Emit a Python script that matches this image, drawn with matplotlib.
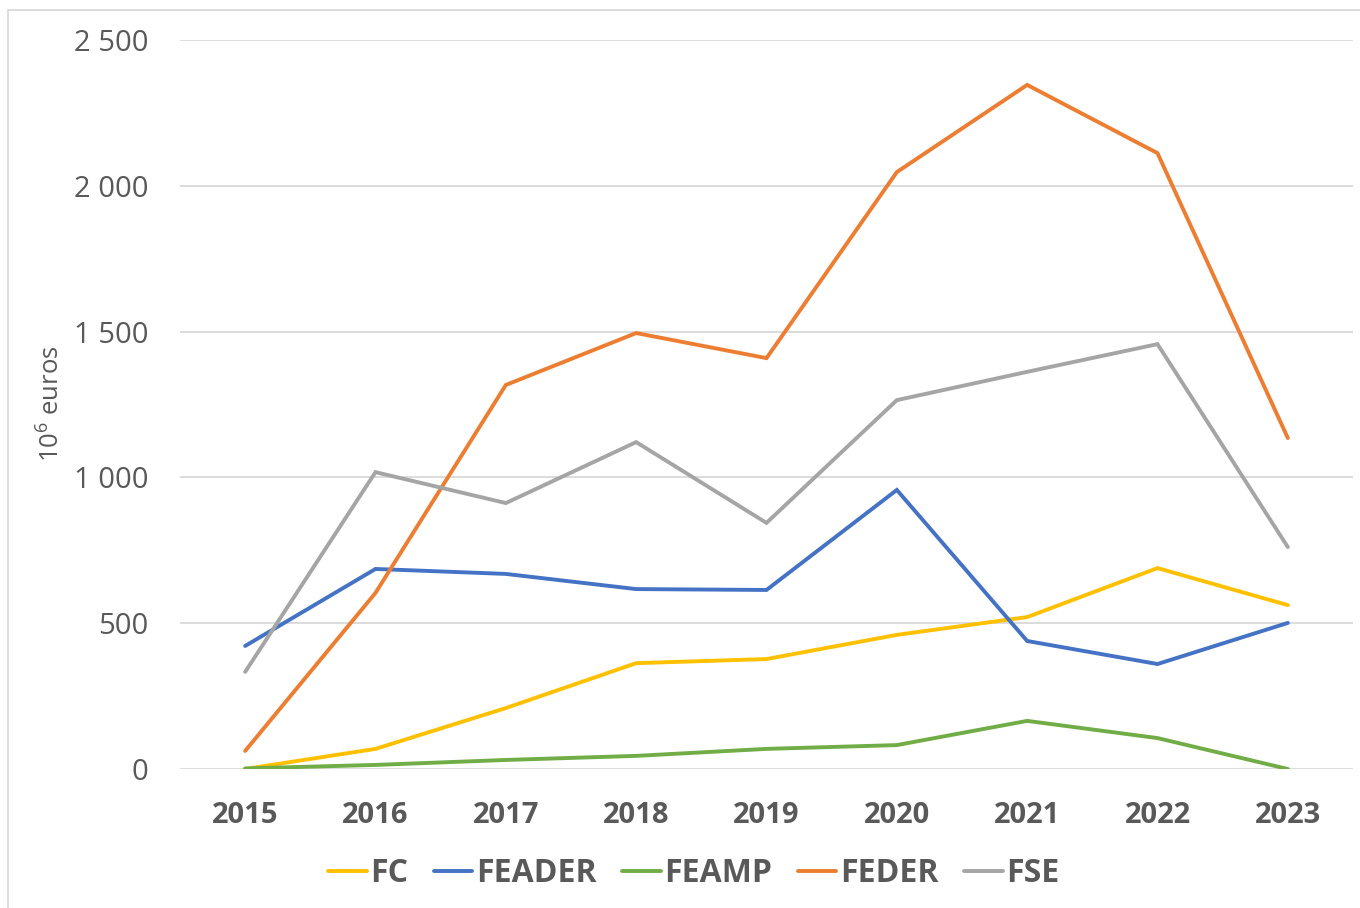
import matplotlib
matplotlib.use("Agg")
import matplotlib.pyplot as plt
from matplotlib.patches import Rectangle
from matplotlib.ticker import FuncFormatter

years = ["2015", "2016", "2017", "2018", "2019", "2020", "2021", "2022", "2023"]
fc = [0, 69, 209, 363, 377, 460, 521, 689, 562]
feader = [422, 686, 669, 617, 614, 957, 439, 360, 501]
feamp = [2, 14, 31, 45, 69, 82, 165, 106, 0]
feder = [62, 604, 1317, 1495, 1409, 2047, 2346, 2112, 1135]
fse = [333, 1018, 912, 1121, 844, 1265, 1362, 1457, 761]

series = [("FC", fc, "#FFC000"), ("FEADER", feader, "#4472C4"),
          ("FEAMP", feamp, "#70AD47"), ("FEDER", feder, "#ED7D31"),
          ("FSE", fse, "#A5A5A5")]

plt.rcParams['font.family'] = ['Open Sans', 'DejaVu Sans']
plt.rcParams['mathtext.fontset'] = 'custom'
plt.rcParams['mathtext.rm'] = 'Open Sans'
plt.rcParams['mathtext.it'] = 'Open Sans:italic'
plt.rcParams['mathtext.bf'] = 'Open Sans:bold'
W, H = 1360, 908
fig = plt.figure(figsize=(W/100, H/100), dpi=100)
ax = fig.add_axes([180/W, (H-769)/H, (1353-180)/W, (769-40)/H])

x = list(range(len(years)))
handles = []
for name, vals, col in series:
    h, = ax.plot(x, vals, color=col, lw=2.8, label=name, solid_capstyle='round', solid_joinstyle='miter')
    handles.append(h)

ax.set_xlim(-0.5, len(years) - 0.5)
ax.set_ylim(0, 2500)
ax.set_yticks([0, 500, 1000, 1500, 2000, 2500])
ax.yaxis.set_major_formatter(FuncFormatter(lambda v, p: f"{int(v):,}".replace(",", " ")))
ax.set_xticks(x)
ax.set_xticklabels(years, fontweight='bold')
ax.grid(axis='y', color='#D9D9D9', lw=1.3)
ax.set_axisbelow(True)
for s in ax.spines.values():
    s.set_visible(False)
ax.tick_params(axis='both', length=0, colors='#595959', labelsize=21)
ax.tick_params(axis='y', pad=23)
ax.tick_params(axis='x', pad=23)

fig.text(52/W, 1 - 404/H, "$\\mathregular{10^6}$ euros", rotation=90, ha='center', va='center',
         fontsize=18.5, color='#595959')

leg = fig.legend(handles=handles, loc='center', bbox_to_anchor=(694/W, 1 - 874/H),
                 ncol=5, frameon=False, handlelength=1.2, handletextpad=0.12,
                 columnspacing=0.8, prop={'size': 23, 'weight': 'bold'})
for t in leg.get_texts():
    t.set_color('#595959')

fig.patches.append(Rectangle((8/W, -0.1), 1.2, (H-10)/H + 0.1, transform=fig.transFigure,
                             fill=False, edgecolor='#D9D9D9', lw=1.3))

fig.savefig("out.png", dpi=100)
